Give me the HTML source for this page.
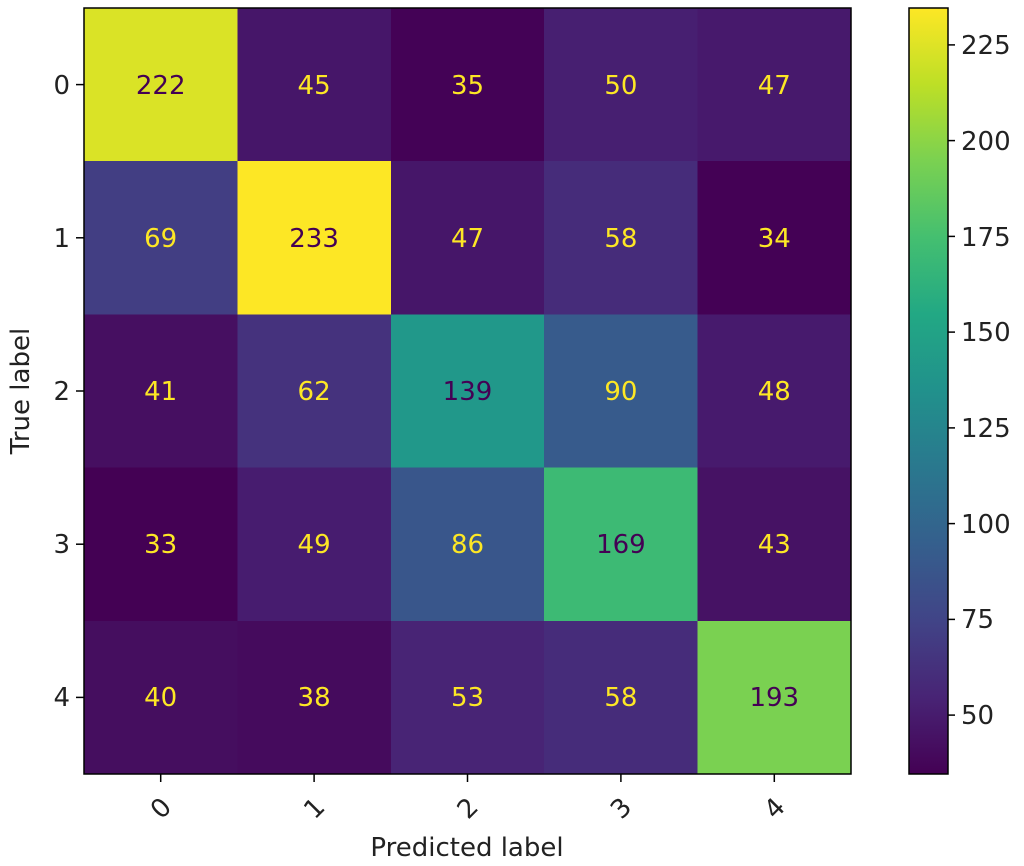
<!DOCTYPE html>
<html><head><meta charset="utf-8"><style>
html,body{margin:0;padding:0;background:#fff;}
svg{display:block;font-family:"DejaVu Sans","Liberation Sans",sans-serif;}
</style></head><body>
<svg width="1024" height="866" viewBox="0 0 1024 866" xmlns="http://www.w3.org/2000/svg">
<defs>
<linearGradient id="vir" x1="0" y1="1" x2="0" y2="0">
<stop offset="0" stop-color="#440154"/><stop offset="0.1" stop-color="#482475"/><stop offset="0.2" stop-color="#414487"/><stop offset="0.3" stop-color="#355f8d"/><stop offset="0.4" stop-color="#2a788e"/><stop offset="0.5" stop-color="#21918c"/><stop offset="0.6" stop-color="#22a884"/><stop offset="0.7" stop-color="#44bf70"/><stop offset="0.8" stop-color="#7ad151"/><stop offset="0.9" stop-color="#bddf26"/><stop offset="1" stop-color="#fde725"/>
</linearGradient>
</defs>
<g shape-rendering="crispEdges">
<rect x="84" y="8" width="154" height="154" fill="#dae326"/>
<rect x="237.4" y="8" width="154" height="154" fill="#461669"/>
<rect x="390.8" y="8" width="154" height="154" fill="#440256"/>
<rect x="544.2" y="8" width="154" height="154" fill="#471f71"/>
<rect x="697.6" y="8" width="153.4" height="154" fill="#47196c"/>
<rect x="84" y="161.2" width="154" height="154" fill="#423e83"/>
<rect x="237.4" y="161.2" width="154" height="154" fill="#fde725"/>
<rect x="390.8" y="161.2" width="154" height="154" fill="#461669"/>
<rect x="544.2" y="161.2" width="154" height="154" fill="#462c7a"/>
<rect x="697.6" y="161.2" width="153.4" height="154" fill="#440155"/>
<rect x="84" y="314.4" width="154" height="154" fill="#460f61"/>
<rect x="237.4" y="314.4" width="154" height="154" fill="#45327d"/>
<rect x="390.8" y="314.4" width="154" height="154" fill="#21988a"/>
<rect x="544.2" y="314.4" width="154" height="154" fill="#375b8c"/>
<rect x="697.6" y="314.4" width="153.4" height="154" fill="#471a6d"/>
<rect x="84" y="467.6" width="154" height="154" fill="#440154"/>
<rect x="237.4" y="467.6" width="154" height="154" fill="#471c6f"/>
<rect x="390.8" y="467.6" width="154" height="154" fill="#39568b"/>
<rect x="544.2" y="467.6" width="154" height="154" fill="#3dba74"/>
<rect x="697.6" y="467.6" width="153.4" height="154" fill="#461264"/>
<rect x="84" y="620.8" width="154" height="153.2" fill="#450e5f"/>
<rect x="237.4" y="620.8" width="154" height="153.2" fill="#450b5d"/>
<rect x="390.8" y="620.8" width="154" height="153.2" fill="#482475"/>
<rect x="544.2" y="620.8" width="154" height="153.2" fill="#462c7a"/>
<rect x="697.6" y="620.8" width="153.4" height="153.2" fill="#7ad151"/>
</g>
<rect x="84" y="8" width="767" height="766" fill="none" stroke="#000" stroke-width="1.5"/>
<g font-size="26" text-anchor="middle" fill="#fde725">
<text x="160.7" y="94" fill="#440154">222</text><text x="314.1" y="94">45</text><text x="467.5" y="94">35</text><text x="620.9" y="94">50</text><text x="774.3" y="94">47</text>
<text x="160.7" y="247">69</text><text x="314.1" y="247" fill="#440154">233</text><text x="467.5" y="247">47</text><text x="620.9" y="247">58</text><text x="774.3" y="247">34</text>
<text x="160.7" y="400">41</text><text x="314.1" y="400">62</text><text x="467.5" y="400" fill="#440154">139</text><text x="620.9" y="400">90</text><text x="774.3" y="400">48</text>
<text x="160.7" y="553">33</text><text x="314.1" y="553">49</text><text x="467.5" y="553">86</text><text x="620.9" y="553" fill="#440154">169</text><text x="774.3" y="553">43</text>
<text x="160.7" y="706">40</text><text x="314.1" y="706">38</text><text x="467.5" y="706">53</text><text x="620.9" y="706">58</text><text x="774.3" y="706" fill="#440154">193</text>
</g>
<g stroke="#000" stroke-width="1.5">
<line x1="76" y1="84.6" x2="84" y2="84.6"/><line x1="76" y1="237.8" x2="84" y2="237.8"/><line x1="76" y1="391" x2="84" y2="391"/><line x1="76" y1="544.2" x2="84" y2="544.2"/><line x1="76" y1="697.4" x2="84" y2="697.4"/>
<line x1="160.7" y1="774" x2="160.7" y2="782"/><line x1="314.1" y1="774" x2="314.1" y2="782"/><line x1="467.5" y1="774" x2="467.5" y2="782"/><line x1="620.9" y1="774" x2="620.9" y2="782"/><line x1="774.3" y1="774" x2="774.3" y2="782"/>
</g>
<g font-size="26" fill="#222" text-anchor="end">
<text x="70" y="94">0</text><text x="70" y="247">1</text><text x="70" y="400">2</text><text x="70" y="553">3</text><text x="70" y="706">4</text>
</g>
<g font-size="26" fill="#222" text-anchor="middle">
<text transform="translate(160.7,808) rotate(-45)" dy="9">0</text>
<text transform="translate(314.1,808) rotate(-45)" dy="9">1</text>
<text transform="translate(467.5,808) rotate(-45)" dy="9">2</text>
<text transform="translate(620.9,808) rotate(-45)" dy="9">3</text>
<text transform="translate(774.3,808) rotate(-45)" dy="9">4</text>
<text x="467" y="856">Predicted label</text>
<text transform="translate(29,391) rotate(-90)">True label</text>
</g>
<rect x="909" y="8" width="39" height="766" fill="url(#vir)" stroke="#000" stroke-width="1.5"/>
<g stroke="#000" stroke-width="1.5">
<line x1="948" y1="44.9" x2="955" y2="44.9"/><line x1="948" y1="140.6" x2="955" y2="140.6"/><line x1="948" y1="236.4" x2="955" y2="236.4"/><line x1="948" y1="332.1" x2="955" y2="332.1"/><line x1="948" y1="427.9" x2="955" y2="427.9"/><line x1="948" y1="523.6" x2="955" y2="523.6"/><line x1="948" y1="619.4" x2="955" y2="619.4"/><line x1="948" y1="715.1" x2="955" y2="715.1"/>
</g>
<g font-size="26" fill="#222">
<text x="961" y="54">225</text><text x="961" y="150">200</text><text x="961" y="246">175</text><text x="961" y="341">150</text><text x="961" y="437">125</text><text x="961" y="533">100</text><text x="961" y="628">75</text><text x="961" y="724">50</text>
</g>
</svg>
</body></html>
